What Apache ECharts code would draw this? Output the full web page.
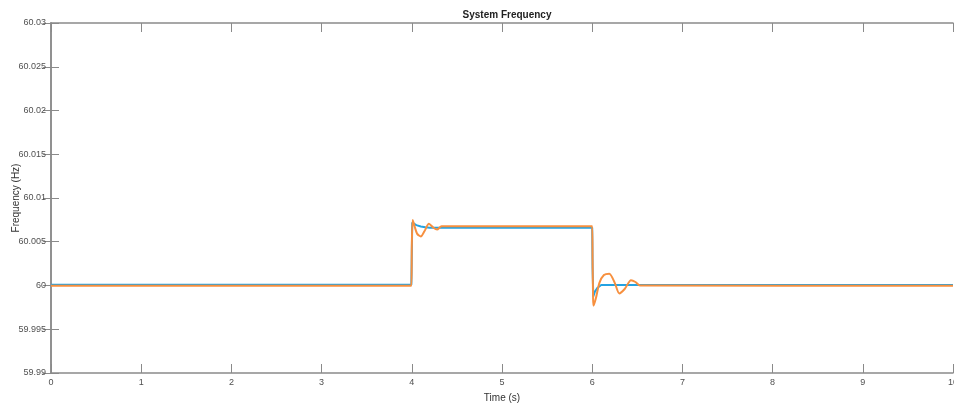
<!DOCTYPE html>
<html>
<head>
    <meta charset="UTF-8">
    <title>System Frequency</title>
    <script src="https://cdn.jsdelivr.net/npm/echarts@6/dist/echarts.min.js"></script>
    <style>
        html, body { margin: 0; padding: 0; background: #fff; }
        #main { width: 954px; height: 405px; }
    </style>
</head>
<body>
<div id="main"></div>
<script type="text/javascript">
    // values
    var blueTime = [0, 3.995, 4.005, 4.02, 4.05, 4.1, 4.15, 4.2, 6.0, 6.004, 6.012, 6.03, 6.06, 6.1, 10];
    var blueFreq = [60.00008, 60.00008, 60.0072, 60.0071, 60.0069, 60.00675, 60.00665, 60.0066, 60.0066, 60.002, 59.99875, 59.9993, 59.99975, 60.00005, 60.00005];

    var orangeTime = [0, 3.995, 4.0, 4.01, 4.03, 4.06, 4.1, 4.14, 4.19, 4.24, 4.28, 4.33, 6.0, 6.004, 6.01, 6.015, 6.04, 6.08, 6.13, 6.19, 6.25, 6.30, 6.36, 6.43, 6.48, 6.53, 10];
    var orangeFreq = [59.99996, 59.99996, 60.0045, 60.0075, 60.0068, 60.0059, 60.0056, 60.0062, 60.00705, 60.0066, 60.0064, 60.00678, 60.00678, 60.003, 59.9985, 59.9977, 59.9985, 60.0003, 60.0012, 60.00135, 60.0003, 59.9991, 59.9996, 60.0006, 60.0004, 60.0, 59.99996];

    var xTicks = {min: 0, max: 10, interval: 1};
    var yTicks = {min: 59.99, max: 60.03, interval: 0.005};

    function pairs(t, v) {
        var out = [];
        for (var i = 0; i < t.length; i++) out.push([t[i], v[i]]);
        return out;
    }

    var myChart = echarts.init(document.getElementById('main'));
    var axisGrey = '#8a8a8a';
    var labelGrey = '#505050';

    var option = {
        animation: false,
        title: {
            text: 'System Frequency',
            left: 502,
            textAlign: 'center',
            top: 5,
            textStyle: {fontFamily: 'Liberation Sans', fontSize: 10, fontWeight: 'bold', color: '#222'}
        },
        grid: {left: 51, top: 23, right: 1, bottom: 32, containLabel: false, outerBoundsMode: 'none'},
        xAxis: [
            {
                type: 'value', min: xTicks.min, max: xTicks.max, interval: xTicks.interval,
                name: 'Time (s)', nameLocation: 'middle', nameGap: 20, nameMoveOverlap: false,
                nameTextStyle: {fontFamily: 'Liberation Sans', fontSize: 10, color: '#333'},
                axisLine: {show: true, lineStyle: {color: axisGrey, width: 1.5}},
                axisTick: {show: true, inside: true, length: 9, lineStyle: {color: axisGrey}},
                axisLabel: {fontFamily: 'Liberation Sans', fontSize: 9, color: labelGrey, margin: 5},
                splitLine: {show: false}
            },
            {
                type: 'value', position: 'top', min: xTicks.min, max: xTicks.max, interval: xTicks.interval,
                axisLine: {show: true, lineStyle: {color: axisGrey, width: 1.5}},
                axisTick: {show: true, inside: true, length: 9, lineStyle: {color: axisGrey}},
                axisLabel: {show: false},
                splitLine: {show: false}
            }
        ],
        yAxis: [
            {
                type: 'value', min: yTicks.min, max: yTicks.max, interval: yTicks.interval,
                name: 'Frequency (Hz)', nameLocation: 'middle', nameGap: 30, nameMoveOverlap: false,
                nameTextStyle: {fontFamily: 'Liberation Sans', fontSize: 10, color: '#333'},
                axisLine: {show: true, lineStyle: {color: axisGrey, width: 1.5}},
                axisTick: {show: true, inside: true, length: 8, lineStyle: {color: axisGrey}},
                axisLabel: {
                    fontFamily: 'Liberation Sans', fontSize: 9, color: labelGrey, margin: 5,
                    formatter: function (v) { return String(+v.toFixed(3)); }
                },
                splitLine: {show: false}
            },
            {
                type: 'value', position: 'right', min: yTicks.min, max: yTicks.max, interval: yTicks.interval,
                axisLine: {show: true, lineStyle: {color: axisGrey, width: 1.5}},
                axisTick: {show: true, inside: true, length: 8, lineStyle: {color: axisGrey}},
                axisLabel: {show: false},
                splitLine: {show: false}
            }
        ],
        series: [
            {
                name: 'blue',
                type: 'line',
                showSymbol: false,
                data: pairs(blueTime, blueFreq),
                lineStyle: {color: '#23A2E2', width: 2},
                z: 2
            },
            {
                name: 'orange',
                type: 'line',
                showSymbol: false,
                smooth: 0.25,
                data: pairs(orangeTime, orangeFreq),
                lineStyle: {color: '#F7903F', width: 2},
                z: 3
            }
        ]
    };

    option && myChart.setOption(option);
</script>
</body>
</html>
